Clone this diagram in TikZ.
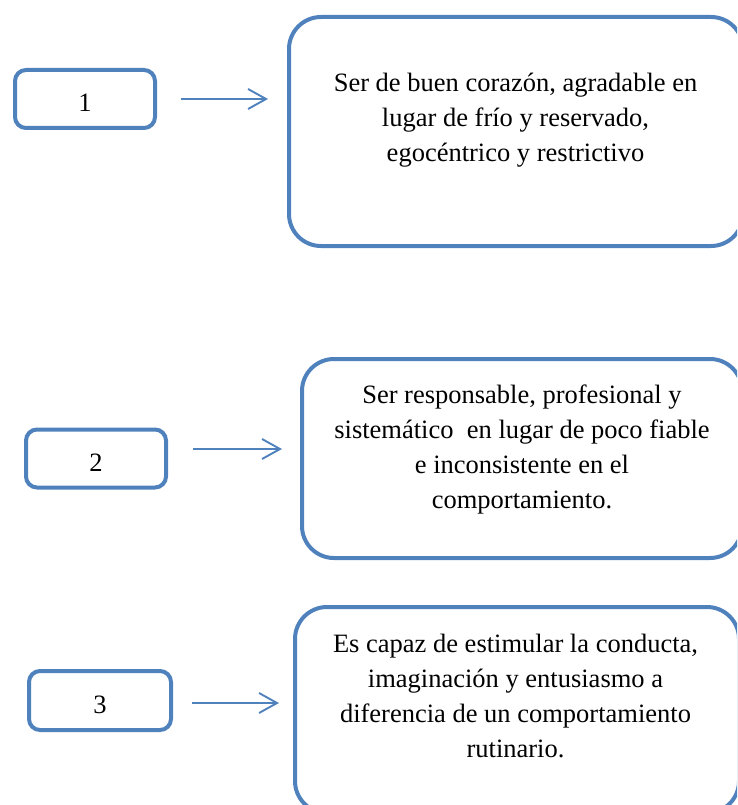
\documentclass[tikz,border=0pt]{standalone}
\usepackage{fontspec}
\setmainfont{Liberation Serif}
\usetikzlibrary{arrows.meta}
\definecolor{boxblue}{HTML}{4F81BD}

\begin{document}
\begin{tikzpicture}[
	x=1pt, y=-1pt,
	num/.style={
		rectangle,
		rounded corners=11pt,
		draw=boxblue,
		line width=4pt,
		minimum width=140pt,
		minimum height=58pt,
		text height=25.5pt,
		text depth=0pt,
		font=\fontsize{26.5}{35}\selectfont
	},
	panel/.style={
		rectangle,
		rounded corners=32pt,
		draw=boxblue,
		line width=4pt
	},
	desc/.style={
		align=center,
		inner sep=0pt,
		font=\fontsize{26.5}{35}\selectfont
	},
	ArrowB/.style={% open arrows between the boxes
		draw=boxblue,
		line width=1.9pt,
		-{Straight Barb[length=18pt,width=20pt]},
		shorten <=24pt,
		shorten >=19pt
	},
]
	\useasboundingbox (0,0) rectangle (737,805);
	\clip (0,0) rectangle (737,805);

	\node [num] (n1) at (85,99) {1};
	\node [num] (n2) at (96,458.5) {2};
	\node [num, minimum width=142pt, minimum height=59pt] (n3) at (100,700.5) {3};

	\node [panel, minimum width=454pt, minimum height=229pt] (b1) at (516,131.5) {};
	\node [panel, minimum width=440pt, minimum height=199pt] (b2) at (522,458.5) {};
	\node [panel, minimum width=444pt, minimum height=206pt] (b3) at (517,710) {};

	\node [desc] (t1) at (515.5,120) {Ser de buen corazón, agradable en\\ lugar de frío y reservado,\\ egocéntrico y restrictivo};
	\node [desc] (t2) at (522,449.5) {Ser responsable, profesional y\\ sistemático\ \ en lugar de poco fiable\\ e inconsistente en el\\ comportamiento.};
	\node [desc] (t3) at (515.5,695.5) {Es capaz de estimular la conducta,\\ imaginación y entusiasmo a\\ diferencia de un comportamiento\\ rutinario.};

	\coordinate (a2) at ([yshift=9.5pt]n2.east);
	\coordinate (a3) at ([yshift=-2.5pt]n3.east);

	\draw [ArrowB] (n1) -- (n1 -| b1.west);
	\draw [ArrowB, shorten <=25pt, shorten >=18pt] (a2) -- (a2 -| b2.west);
	\draw [ArrowB, shorten <=19pt, shorten >=14pt] (a3) -- (a3 -| b3.west);
\end{tikzpicture}
\end{document}
